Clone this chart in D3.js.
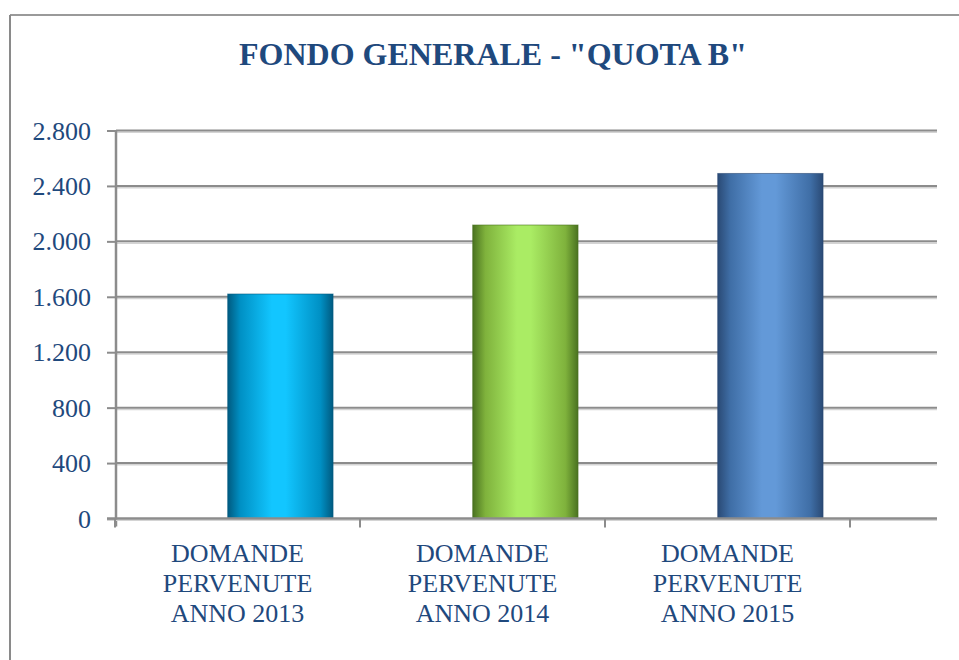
<!DOCTYPE html>
<html>
<head>
<meta charset="utf-8">
<script src="https://cdn.jsdelivr.net/npm/d3@7"></script>
<style>
  body { margin: 0; background: #fff; }
  text { font-family: "Liberation Serif", "Times New Roman", serif; fill: #1F497D; }
</style>
</head>
<body>
<div id="chart"></div>
<script>
// dati
var titolo = 'FONDO GENERALE - "QUOTA B"';
var categorie = ["2013", "2014", "2015"];
var etichette = [
  ["DOMANDE", "PERVENUTE", "ANNO 2013"],
  ["DOMANDE", "PERVENUTE", "ANNO 2014"],
  ["DOMANDE", "PERVENUTE", "ANNO 2015"]
];
var valori = [1620, 2118, 2490];
var yTicks = [0, 400, 800, 1200, 1600, 2000, 2400, 2800];
// colori barre: bordo scuro, medio, centro chiaro
var coloriBarre = [
  ["#005a80", "#0090c4", "#12c6ff"],
  ["#4a7220", "#7fb23c", "#aaec64"],
  ["#2a4a75", "#3f6ea6", "#6399d8"]
];

var W = 959, H = 660;
// NB: "top" è riservato (window.top)
var pLeft = 116, pRight = 937, pTop = 130.5, pBottom = 518.5;

var svg = d3.select("#chart").append("svg")
    .attr("width", W).attr("height", H);

// bordo esterno (solo alto e sinistra visibili)
svg.append("line").attr("x1", 10).attr("x2", W).attr("y1", 15).attr("y2", 15)
    .attr("stroke", "#9a9a9a").attr("stroke-width", 2);
svg.append("line").attr("x1", 10).attr("x2", 10).attr("y1", 15).attr("y2", H)
    .attr("stroke", "#8a8a8a").attr("stroke-width", 2);

svg.append("text")
    .attr("x", 493).attr("y", 65)
    .attr("text-anchor", "middle")
    .style("font-size", "32px").style("font-weight", "bold")
    .text(titolo);

var y = d3.scaleLinear().domain([0, 2800]).range([pBottom, pTop]);
var x = d3.scaleBand().domain(categorie).range([115, 850]).padding(0);

var it = d3.formatLocale({decimal: ",", thousands: ".", grouping: [3], currency: ["€", ""]});
var fmt = it.format(",");

// griglia con ombra chiara
var grid = svg.append("g");
grid.selectAll("line.ombra").data(yTicks.slice(1)).enter().append("line")
    .attr("class", "ombra")
    .attr("x1", pLeft).attr("x2", pRight)
    .attr("y1", function(d){ return y(d) + 1.8; })
    .attr("y2", function(d){ return y(d) + 1.8; })
    .attr("stroke", "#d4d4d4").attr("stroke-width", 1.5);
grid.selectAll("line.riga").data(yTicks.slice(1)).enter().append("line")
    .attr("class", "riga")
    .attr("x1", pLeft).attr("x2", pRight)
    .attr("y1", function(d){ return y(d); })
    .attr("y2", function(d){ return y(d); })
    .attr("stroke", "#8c8c8c").attr("stroke-width", 2);

// gradienti
var defs = svg.append("defs");
coloriBarre.forEach(function(c, i){
    var g = defs.append("linearGradient").attr("id", "grad" + i)
        .attr("x1", "0%").attr("x2", "100%").attr("y1", "0%").attr("y2", "0%");
    var stops = [[0, c[0]], [0.12, c[1]], [0.42, c[2]], [0.55, c[2]], [0.88, c[1]], [1, c[0]]];
    stops.forEach(function(s){
        g.append("stop").attr("offset", s[0] * 100 + "%").attr("stop-color", s[1]);
    });
});

var bw = x.bandwidth();
svg.selectAll("rect.barra").data(valori).enter().append("rect")
    .attr("class", "barra")
    .attr("x", function(d, i){ return x(categorie[i]) + bw * 0.46; })
    .attr("width", bw * 0.43)
    .attr("y", function(d){ return y(d); })
    .attr("height", function(d){ return y(0) - y(d); })
    .attr("fill", function(d, i){ return "url(#grad" + i + ")"; })
    .attr("stroke", function(d, i){ return coloriBarre[i][0]; })
    .attr("stroke-opacity", 0.6)
    .attr("stroke-width", 1);

// asse y
var yAxis = d3.axisLeft(y).tickValues(yTicks).tickFormat(fmt).tickSize(9).tickPadding(16);
var gy = svg.append("g").attr("transform", "translate(" + pLeft + ",0)").call(yAxis);
gy.select(".domain").attr("stroke", "#8c8c8c").attr("stroke-width", 2.5)
    .attr("d", "M0," + pTop + "V" + (pBottom + 8));
gy.selectAll(".tick line").attr("stroke", "#8c8c8c").attr("stroke-width", 2);
gy.selectAll(".tick text").style("font-size", "26px").style("font-family", "Liberation Serif")
    .attr("fill", "#1F497D").attr("dy", "0.33em");

// asse x
var gx = svg.append("g");
gx.append("line").attr("x1", 107).attr("x2", pRight).attr("y1", pBottom).attr("y2", pBottom)
    .attr("stroke", "#d4d4d4").attr("stroke-width", 1.5).attr("transform", "translate(0,1.8)");
gx.append("line").attr("x1", 107).attr("x2", pRight).attr("y1", pBottom).attr("y2", pBottom)
    .attr("stroke", "#8c8c8c").attr("stroke-width", 2.5);
var tickX = categorie.map(function(c){ return x(c); }).concat([x.range()[1]]);
gx.selectAll("line.tick").data(tickX).enter().append("line")
    .attr("class", "tick")
    .attr("x1", function(d){ return d; }).attr("x2", function(d){ return d; })
    .attr("y1", pBottom).attr("y2", pBottom + 9)
    .attr("stroke", "#8c8c8c").attr("stroke-width", 2);

var lab = svg.selectAll("text.cat").data(etichette).enter().append("text")
    .attr("class", "cat")
    .attr("text-anchor", "middle")
    .style("font-size", "26px");
lab.selectAll("tspan").data(function(d, i){
        return d.map(function(s){ return {s: s, i: i}; });
    }).enter().append("tspan")
    .attr("x", function(d){ return x(categorie[d.i]) + bw / 2; })
    .attr("y", function(d, j){ return 561.5 + j * 30; })
    .text(function(d){ return d.s; });
</script>
</body>
</html>
